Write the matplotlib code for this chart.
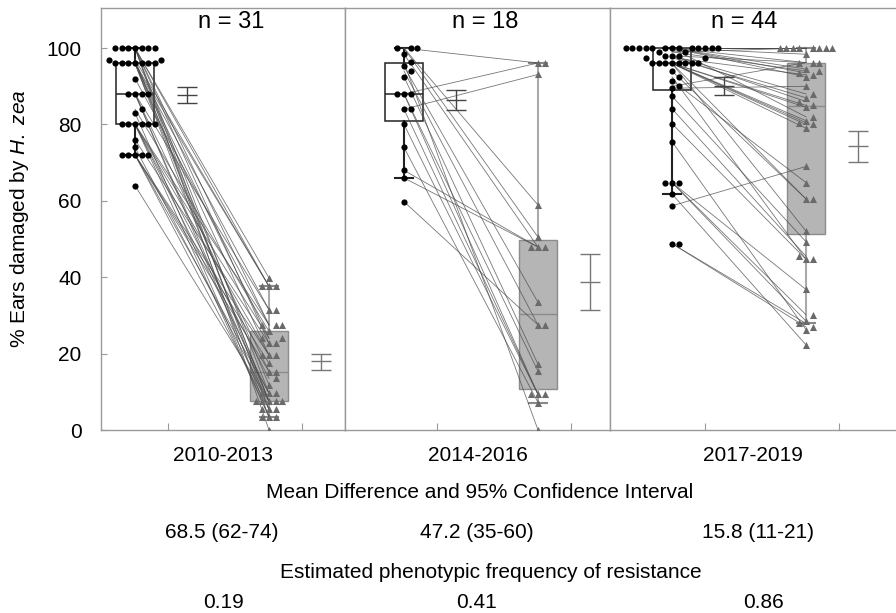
import numpy as np
import matplotlib.pyplot as plt

plt.rcParams['font.family'] = ['Liberation Sans', 'DejaVu Sans']
plt.rcParams['mathtext.fontset'] = 'custom'
plt.rcParams['mathtext.rm'] = 'Liberation Sans'
plt.rcParams['mathtext.it'] = 'Liberation Sans:italic'

# periods and labels
periods = ['2010-2013', '2014-2016', '2017-2019']
n_labels = ['n = 31', 'n = 18', 'n = 44']
mean_diff = ['68.5 (62-74)', '47.2 (35-60)', '15.8 (11-21)']
freq = ['0.19', '0.41', '0.86']

# paired % ears damaged (before = circles, after = triangles), same index = same pair
before_1 = [100, 100, 100, 100, 100, 100, 100, 97, 97, 96, 96, 96, 96, 96, 96, 96, 92,
            88, 88, 88, 88, 84, 83, 80, 80, 80, 80, 80, 80, 76, 74, 72, 72, 72, 72, 72, 64]
after_1 = [39.8, 37.6, 5.4, 27.5, 9.6, 0, 22.7, 37.6, 7.5, 37.6, 31.5, 3.4, 19.6, 11.8, 7.5, 24, 27.5,
           31.5, 5.4, 15.3, 7.5, 25.8, 3.4, 27.5, 19.6, 9.6, 13.5, 3.4, 24, 22.7, 7.5, 19.6, 17.5, 15.3, 9.6, 5.4, 7.5]

before_2 = [100, 88, 84, 100, 100, 98.4, 68, 66, 95.2, 59.8, 94, 92.5, 88, 88, 84, 80, 74, 96.3]
after_2 = [96.1, 96.1, 93.1, 58.9, 50.5, 47.9, 47.9, 47.9, 33.4, 27.5, 27.5, 17.2, 15.4, 9.3, 9.3, 9.3, 7.2, 0]

before_3 = [100] * 13 + [99, 99, 98, 98, 98, 97.5, 97.5] + [96] * 8 + \
           [94, 92.5, 91.5, 90, 89.5, 87.4, 84.1, 80.2, 75.5, 64.8, 64.8, 64.8, 61.8, 58.7, 48.8, 48.8]
after_3 = [100, 100, 100, 100, 100, 100, 100, 98.4, 96.2, 94.5, 93.5, 92.5, 82,
           100, 94, 96.2, 88, 86, 93, 87,
           85, 84.5, 81, 80.5, 80, 79, 60.5, 52.1,
           60.5, 44.7, 64.8, 96.2, 90, 49.3, 45.5, 44.7, 26.3, 30.2, 28.5, 36.8, 22.3, 69, 27.9, 27]

# mean and 95% CI shown beside each box
ci_mean_before = [87.8, 86.4, 90.1]
ci_lo_before = [85.7, 83.7, 87.7]
ci_hi_before = [89.7, 89.0, 92.4]
ci_mean_after = [18.1, 38.7, 74.3]
ci_lo_after = [15.8, 31.5, 70.1]
ci_hi_after = [20.0, 46.1, 78.3]

befores = [before_1, before_2, before_3]
afters = [after_1, after_2, after_3]

# panel layout (pixel based)
xlims = [(0.746, 2.567), (0.560, 2.537), (0.537, 2.672)]
n_xpos = [0.533, 0.528, 0.469]
px_per_x = 134.0
px_per_y = 3.82


def swarm(vals, d=6.6):
    # simple beeswarm: place points by value, nudge sideways until no overlap
    vals = np.asarray(vals, dtype=float)
    offs = np.zeros(len(vals))
    placed = []
    for i in np.argsort(vals, kind='stable'):
        y = vals[i] * px_per_y
        k = 0
        while True:
            cand = ((k + 1) // 2) * d * (1 if k % 2 else -1)
            if all((cand - px) ** 2 + (y - py) ** 2 >= d * d * 0.97 for px, py in placed):
                break
            k += 1
        placed.append((cand, y))
        offs[i] = cand / px_per_x
    return offs


fig = plt.figure(figsize=(8.96, 6.13), dpi=100)
gs = fig.add_gridspec(1, 3, width_ratios=[244, 265, 286], left=101 / 896, right=1.0,
                      bottom=1 - 430 / 613, top=1 - 8 / 613, wspace=0)
axes = [fig.add_subplot(gs[0, i]) for i in range(3)]

for i, ax in enumerate(axes):
    b = np.array(befores[i])
    a = np.array(afters[i])

    ax.boxplot([b], positions=[1], widths=0.28, whis=(5, 95), showfliers=False, patch_artist=True,
               boxprops=dict(facecolor='white', edgecolor='#222222', linewidth=1.1),
               medianprops=dict(color='#222222', linewidth=1.1),
               whiskerprops=dict(color='#222222', linewidth=1.5),
               capprops=dict(color='#222222', linewidth=1.5), zorder=1)
    ax.boxplot([a], positions=[2], widths=0.28, whis=(5, 95), showfliers=False, patch_artist=True,
               boxprops=dict(facecolor='#b5b5b5', edgecolor='#8c8c8c', linewidth=1.0),
               medianprops=dict(color='#8c8c8c', linewidth=1.0),
               whiskerprops=dict(color='#aaaaaa', linewidth=1.5),
               capprops=dict(color='#888888', linewidth=1.5), zorder=1)

    # paired lines
    for yb, ya in zip(b, a):
        ax.plot([1, 2], [yb, ya], color='#4a4a4a', linewidth=0.6, alpha=0.75, zorder=2)

    ax.scatter(1 + swarm(b), b, s=20, color='black', marker='o', linewidths=0, zorder=4)
    ax.scatter(2 + swarm(a), a, s=26, color='#6a6a6a', marker='^', linewidths=0, zorder=4)

    # mean and CI bars
    for x, m, lo, hi, col in [(1.385, ci_mean_before[i], ci_lo_before[i], ci_hi_before[i], '#444444'),
                              (2.385, ci_mean_after[i], ci_lo_after[i], ci_hi_after[i], '#777777')]:
        ax.vlines(x, lo, hi, color=col, linewidth=1.0, zorder=3)
        ax.hlines([lo, m, hi], x - 0.075, x + 0.075, color=col, linewidth=1.0, zorder=3)

    ax.text(n_xpos[i], 106.8 / 110.5, n_labels[i], transform=ax.transAxes,
            fontsize=17, ha='center', va='center')

    ax.set_xlim(*xlims[i])
    ax.set_ylim(0, 110.5)
    ax.set_xticks([1.246, 2.246])
    ax.set_xticklabels([])
    ax.tick_params(axis='x', direction='in', length=5, color='#999999')
    for sp in ax.spines.values():
        sp.set_color('#999999')
        sp.set_linewidth(1.0)
    ax.set_xlabel(periods[i], fontsize=15, labelpad=8)
    if i == 0:
        ax.set_yticks([0, 20, 40, 60, 80, 100])
        ax.tick_params(axis='y', direction='in', length=4, color='#999999', labelsize=15, pad=14)
        ax.set_ylabel('% Ears damaged by $\\mathit{H.\\ zea}$', fontsize=15)
        ax.yaxis.set_label_coords(-0.285, 0.5)
    else:
        ax.set_yticks([])

axes[2].spines['right'].set_visible(False)

# bottom summary text
fig.text(480 / 896, 1 - 493 / 613, 'Mean Difference and 95% Confidence Interval', fontsize=15,
         ha='center', va='center')
for x, s in zip([222, 477, 758], mean_diff):
    fig.text(x / 896, 1 - 533 / 613, s, fontsize=15, ha='center', va='center')
fig.text(491 / 896, 1 - 572 / 613, 'Estimated phenotypic frequency of resistance', fontsize=15,
         ha='center', va='center')
for x, s in zip([223, 476, 763], freq):
    fig.text(x / 896, 1 - 603 / 613, s, fontsize=15, ha='center', va='center')

fig.savefig('out.png', dpi=100)
